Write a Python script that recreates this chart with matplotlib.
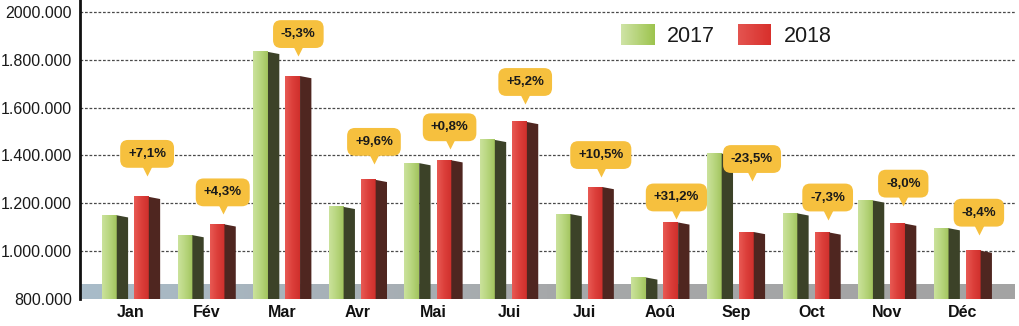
import numpy as np
import matplotlib.pyplot as plt
from matplotlib.patches import Polygon
from matplotlib.colors import LinearSegmentedColormap
from matplotlib.transforms import offset_copy

plt.rcParams['font.family'] = ['Liberation Sans', 'DejaVu Sans']

months = ['Jan', 'Fév', 'Mar', 'Avr', 'Mai', 'Jui', 'Jui', 'Aoû', 'Sep', 'Oct', 'Nov', 'Déc']
v2017 = [1150000, 1067000, 1833000, 1185000, 1368000, 1465000, 1155000, 890000, 1408000, 1158000, 1212000, 1096000]
v2018 = [1227000, 1112000, 1732000, 1298000, 1380000, 1540000, 1268000, 1120000, 1080000, 1078000, 1115000, 1002000]
changes = ['+7,1%', '+4,3%', '-5,3%', '+9,6%', '+0,8%', '+5,2%', '+10,5%', '+31,2%', '-23,5%', '-7,3%', '-8,0%', '-8,4%']
ytick_vals = [800000, 1000000, 1200000, 1400000, 1600000, 1800000, 2000000]
ytick_labels = ['800.000', '1.000.000', '1.200.000', '1.400.000', '1.600.000', '1.800.000', '2000.000']
series = ['2017', '2018']

# callout height above the 2018 bar, in pixels
callout_off = [43, 32, 42, 38, 33, 40, 32, 25, 73, 35, 40, 38]

W, H = 1019, 326
fig = plt.figure(figsize=(W / 100, H / 100), dpi=100)
ax = fig.add_axes([80 / W, (H - 299) / H, (1015 - 80) / W, 299 / H])

YMIN, YMAX = 800000, 2050000
XMIN, XMAX = -0.675, 11.69
ax.set_xlim(XMIN, XMAX)
ax.set_ylim(YMIN, YMAX)

# floor band
floor_top = 862000
floor = LinearSegmentedColormap.from_list('floor', ['#a9bcc9', '#a6a8aa', '#a3a3a3'])
ax.imshow(np.linspace(0, 1, 256)[None, :], cmap=floor, aspect='auto',
          extent=[XMIN, XMAX, YMIN, floor_top], zorder=1)

for y in ytick_vals[1:]:
    ax.axhline(y, color='#4a4a4a', lw=0.9, ls=(0, (2.2, 1.4)), zorder=0.5)

green_front = LinearSegmentedColormap.from_list('gf', ['#cbe29c', '#b8d67e', '#a2c45e'])
red_front = LinearSegmentedColormap.from_list('rf', ['#e85a54', '#dc3f3a', '#cf302c'])
styles = [
    dict(front=green_front, side='#3c4228', dx=-0.384),
    dict(front=red_front, side='#4f2620', dx=0.040),
]
fw, sw = 0.195, 0.150
slope = 9000
x = np.arange(len(months))
grad = np.linspace(0, 1, 64)[None, :]

for vals, st in zip([v2017, v2018], styles):
    fronts = ax.bar(x + st['dx'], vals, width=fw, bottom=0, align='edge',
                    color='none', edgecolor='none', zorder=2)
    for rect, v in zip(fronts, vals):
        x0 = rect.get_x()
        x1 = x0 + rect.get_width()
        ax.imshow(grad, cmap=st['front'], aspect='auto',
                  extent=[x0, x1, YMIN, v], zorder=3)
        side = Polygon([(x1, YMIN), (x1, v), (x1 + sw, v - slope), (x1 + sw, YMIN)],
                       closed=True, facecolor=st['side'], edgecolor='none', zorder=3)
        ax.add_patch(side)

ax.set_xlim(XMIN, XMAX)
ax.set_ylim(YMIN, YMAX)

# callouts
red_centre = x + styles[1]['dx'] + (fw + sw) / 2
for xc, v, lab, off in zip(red_centre, v2018, changes, callout_off):
    ax.annotate(lab, xy=(xc, v), xytext=(0, off), textcoords='offset pixels',
                ha='center', va='center', fontsize=9.5, fontweight='bold',
                family=['Liberation Sans Narrow', 'Liberation Sans'], color='#1a1a1a',
                bbox=dict(boxstyle='round,pad=0.6,rounding_size=0.6', fc='#f6c03e', ec='none'),
                zorder=6)
    tr = offset_copy(ax.transData, fig=fig, x=0, y=off - 17, units='dots')
    ax.plot([xc], [v], marker='v', ms=7, color='#f6c03e', mec='none', transform=tr, zorder=6)

ax.set_yticks(ytick_vals)
ax.set_yticklabels(ytick_labels, fontsize=11.5, color='#1a1a1a')
ax.set_xticks(x)
ax.set_xticklabels(months, fontsize=11.5, fontweight='bold', color='#111111')
ax.tick_params(axis='both', length=0)
ax.tick_params(axis='y', pad=6)
ax.tick_params(axis='x', pad=4)

for s in ['top', 'right', 'bottom']:
    ax.spines[s].set_visible(False)
ax.spines['left'].set_linewidth(2)
ax.spines['left'].set_color('#111111')

# legend
leg_cmaps = [LinearSegmentedColormap.from_list('lg', ['#cfe4a6', '#9dc34e']),
             LinearSegmentedColormap.from_list('lr', ['#e45450', '#d8302c'])]
for i, (name, cm) in enumerate(zip(series, leg_cmaps)):
    lx = 621 + i * 117
    sax = fig.add_axes([lx / W, (H - 45) / H, 33 / W, 21 / H])
    sax.imshow(grad, cmap=cm, aspect='auto')
    sax.axis('off')
    fig.text((lx + 46) / W, (H - 36) / H, name, fontsize=15.5, va='center', ha='left', color='#1a1a1a')

fig.savefig('out.png', dpi=100)
